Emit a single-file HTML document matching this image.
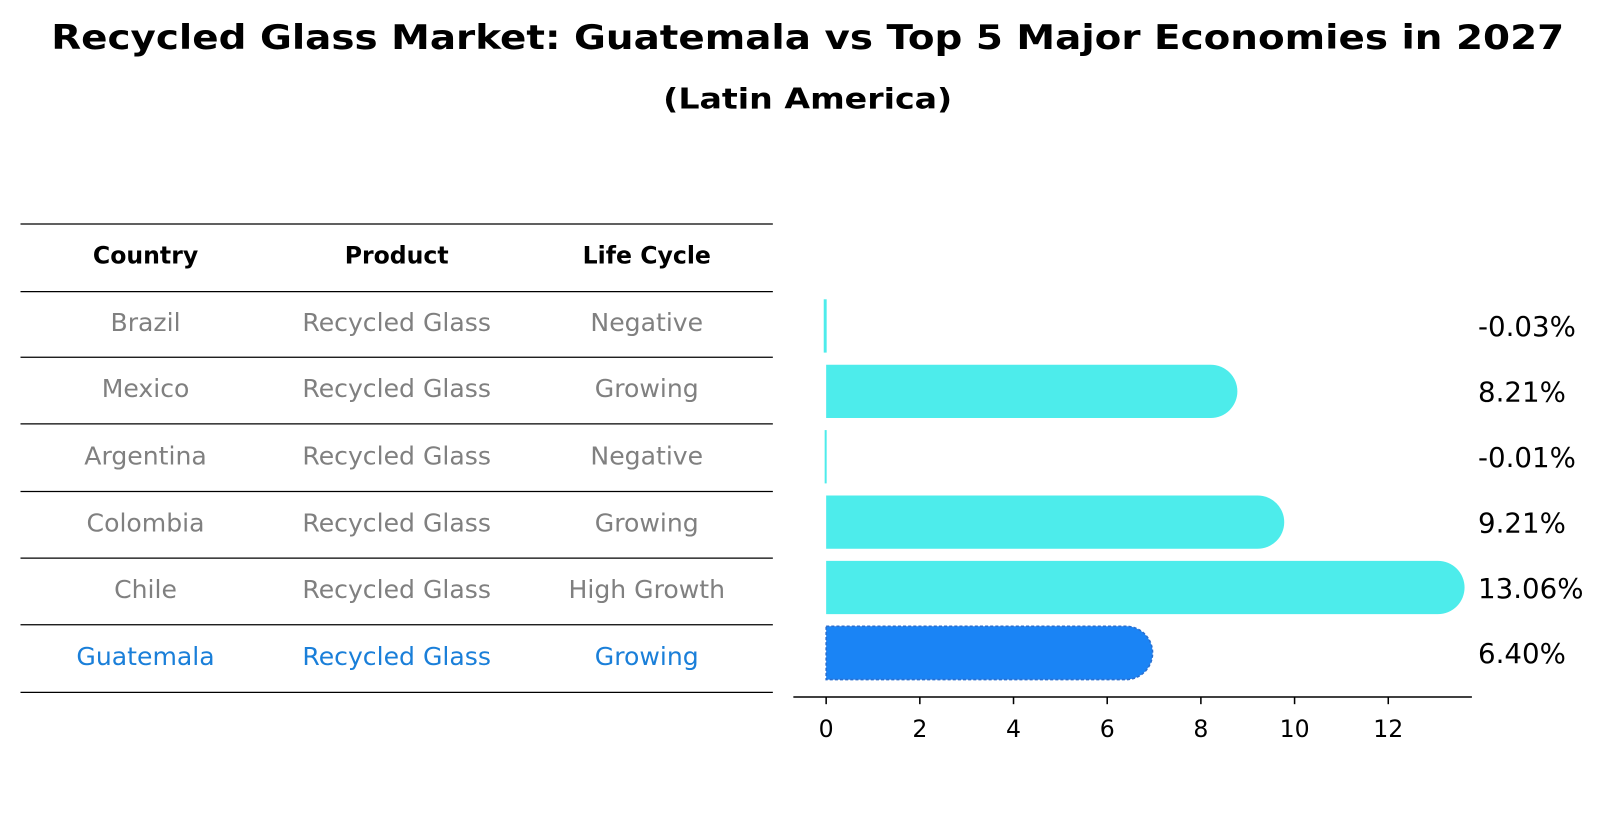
<!DOCTYPE html>
<html><head><meta charset="utf-8"><style>
body{margin:0;background:#fff;font-family:"DejaVu Sans","Liberation Sans",sans-serif}
</style></head><body>
<svg width="1604" height="823" xmlns="http://www.w3.org/2000/svg" font-family="DejaVu Sans, Liberation Sans, sans-serif">
<g transform="scale(1.025)">
<text x="788" y="48" text-anchor="middle" font-size="33" font-weight="bold" textLength="1476" lengthAdjust="spacingAndGlyphs">Recycled Glass Market: Guatemala vs Top 5 Major Economies in 2027</text>
<text x="788" y="106" text-anchor="middle" font-size="28" font-weight="bold" textLength="282" lengthAdjust="spacingAndGlyphs">(Latin America)</text>
<g id="table"></g>
<g id="bars"></g>
</g>
</svg>
<script>
const countries=["Brazil","Mexico","Argentina","Colombia","Chile","Guatemala"];
const products=["Recycled Glass","Recycled Glass","Recycled Glass","Recycled Glass","Recycled Glass","Recycled Glass"];
const lifeCycles=["Negative","Growing","Negative","Growing","High Growth","Growing"];
const growthValues=[-0.03,8.21,-0.01,9.21,13.06,6.40];
const tickValues=[0,2,4,6,8,10,12];
const NS="http://www.w3.org/2000/svg";
function mk(tag,attrs,parent,text){const e=document.createElementNS(NS,tag);for(const k in attrs)e.setAttribute(k,attrs[k]);if(text!==undefined)e.textContent=text;parent.appendChild(e);return e;}
const xs=v=>806+v*45.7;
const rowY=i=>318+i*63.8;
const tbl=document.getElementById('table');
const lines=[218,284,348,413,479,544,609,675];
lines.forEach((y,i)=>{const l=mk('line',{x1:20,x2:754,y1:y+0.5,y2:y+0.5,stroke:'#000','stroke-width':1.2},tbl);

});
const cols=[142,387,631];
["Country","Product","Life Cycle"].forEach((h,j)=>{const t=mk('text',{x:cols[j],y:257,'text-anchor':'middle','font-size':23,'font-weight':'bold'},tbl,h);

});
countries.forEach((c,i)=>{
 const y=(lines[i+1]+lines[i+2])/2+7;
 const col=c==="Guatemala"?"#1a7fd9":"#808080";
 [c,products[i],lifeCycles[i]].forEach((v,j)=>{const t=mk('text',{x:cols[j],y:y,'text-anchor':'middle','font-size':24.5,fill:col},tbl,v);
 
 });
});
const g=document.getElementById('bars');
const h=52,r=26;
growthValues.forEach((v,i)=>{
 const cy=rowY(i),x0=xs(0),x1=xs(v);
 const color=countries[i]==="Guatemala"?"#1a84f5":"#4deceb";
 let el;
 if(v>0.05){
  el=mk('path',{d:`M${x0},${cy-h/2} H${x1} A${r},${r} 0 0 1 ${x1},${cy+h/2} H${x0} Z`,fill:color},g);
  if(countries[i]==="Guatemala"){el.setAttribute('stroke','#2a6fd0');el.setAttribute('stroke-dasharray','3,2');el.setAttribute('stroke-width','1.5');}
 }else{
  el=mk('rect',{x:Math.min(x0,x1)-1,y:cy-h/2,width:Math.max(1.5,Math.abs(x1-x0)+1.5),height:h,fill:color},g);
 }
 
 
 const t=mk('text',{x:1442,y:cy+10,'font-size':27},g,v.toFixed(2)+'%');
 
 
});
const ax=mk('line',{x1:774,x2:1436,y1:680,y2:680,stroke:'#000','stroke-width':1.5},g);


tickValues.forEach(v=>{
 const tk=mk('line',{x1:xs(v),x2:xs(v),y1:680,y2:687,stroke:'#000','stroke-width':1.5},g);
 
 
 const t=mk('text',{x:xs(v),y:719,'text-anchor':'middle','font-size':23},g,String(v));
 
 
});
</script>
</body></html>
